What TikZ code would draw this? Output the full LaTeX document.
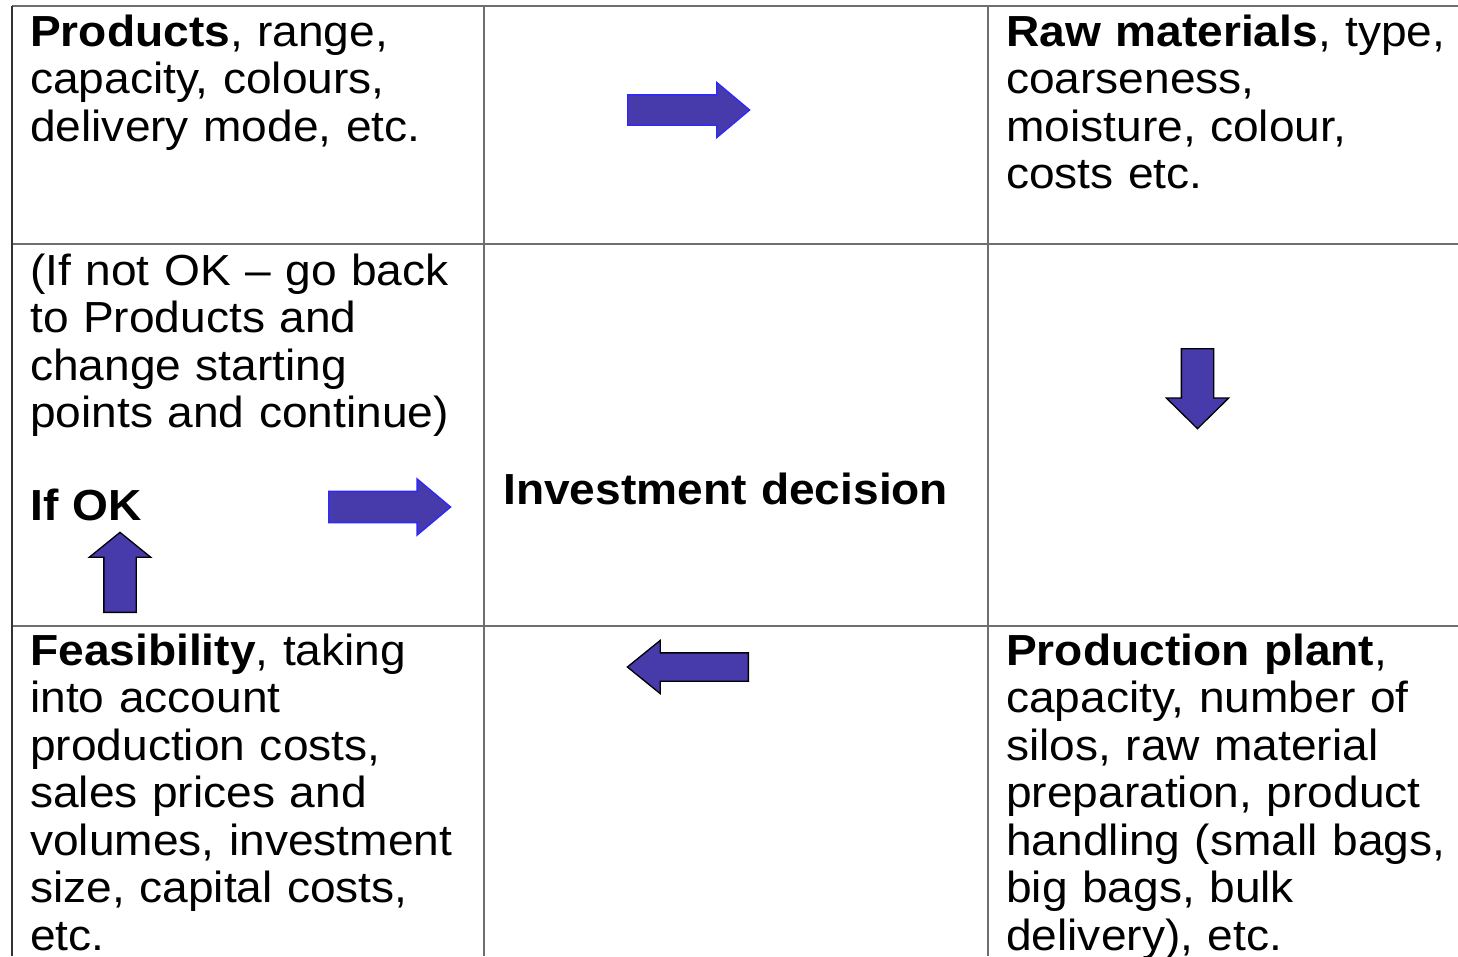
\documentclass[tikz,border=0pt]{standalone}
\usepackage{fontspec}
\setmainfont{Liberation Sans}[FakeStretch=1.06]
\usepackage{xcolor}
\usetikzlibrary{shapes.arrows}
\definecolor{arrowfill}{RGB}{71,58,170}
\definecolor{arrowedge}{RGB}{45,40,255}
\definecolor{gridgray}{RGB}{110,110,110}
\tikzset{
   cell/.style={anchor=base west,inner sep=0,text width=470pt,align=left,
      font=\fontsize{43.5}{47.5}\selectfont},
   blockarrow/.style={single arrow,draw=black,fill=arrowfill,line width=1.3pt,
      inner xsep=0,minimum height=#1,anchor=tail},
   blueedge/.style={draw=arrowedge},
   gridline/.style={gridgray,line width=2.6pt},
}

\begin{document}
\begin{tikzpicture}[x=1pt,y=-1pt]
      \useasboundingbox (0,0) rectangle (1458,956);
      % grid
      \draw [gridline] (12,6) -- (1458,6);
      \draw [gridline] (12,244) -- (1458,244);
      \draw [gridline] (12,626) -- (1458,626);
      \draw [gridline,black!80] (12,6) -- (12,956);
      \draw [gridline] (484,6) -- (484,956);
      \draw [gridline] (988,6) -- (988,956);

      % cell texts
      \node (products) at (30,46) [cell] {\textbf{Products}, range,\\ capacity, colours,\\ delivery mode, etc.};
      \node (rawmat) at (1006,46) [cell] {\textbf{Raw materials}, type,\\ coarseness,\\ moisture, colour,\\ costs etc.};
      \node (ifnotok) at (30,285) [cell] {(If not OK -- go back\\ to Products and\\ change starting\\ points and continue)};
      \node (ifok) at (30,520) [cell] {\textbf{If OK}};
      \node (decision) at (503,504) [cell] {\textbf{Investment decision}};
      \node (feasib) at (30,665) [cell] {\textbf{Feasibility}, taking\\ into account\\ production costs,\\ sales prices and\\ volumes, investment\\ size, capital costs,\\ etc.};
      \node (plant) at (1006,665) [cell] {\textbf{Production plant},\\ capacity, number of\\ silos, raw material\\ preparation, product\\ handling (small bags,\\ big bags, bulk\\ delivery), etc.};

      % block arrows (placed by their tails)
      \node (arrTop) at (627,110) [blockarrow=122pt,blueedge,inner ysep=14.5pt,
            single arrow head extend=12.5pt,single arrow tip angle=80] {};
      \node (arrDown) at (1197.5,348) [blockarrow=80pt,rotate=-90,inner ysep=15.5pt,
            single arrow head extend=15pt,single arrow tip angle=91] {};
      \node (arrMid) at (328,507) [blockarrow=122pt,blueedge,inner ysep=15pt,
            single arrow head extend=12.5pt,single arrow tip angle=80] {};
      \node (arrUp) at (120,613) [blockarrow=80pt,rotate=90,inner ysep=15.5pt,
            single arrow head extend=14.5pt,single arrow tip angle=102] {};
      \node (arrLeft) at (749,667) [blockarrow=121pt,rotate=180,inner ysep=13.5pt,
            single arrow head extend=12.5pt,single arrow tip angle=78] {};
\end{tikzpicture}
\end{document}
